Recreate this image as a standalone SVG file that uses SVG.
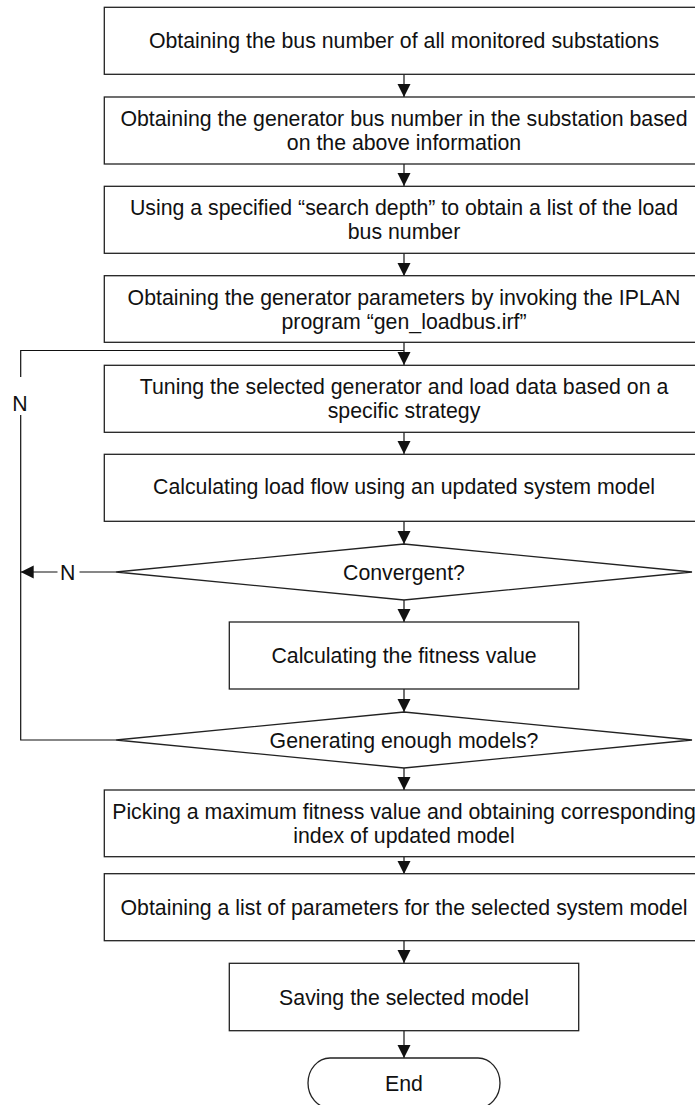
<svg xmlns="http://www.w3.org/2000/svg" width="695" height="1105" viewBox="0 0 695 1105">
  <style>
    .box { fill: #fff; stroke: #222; stroke-width: 1.3; }
    .wire { fill: none; stroke: #111; stroke-width: 1.2; }
    .lbl { font-family: "Liberation Sans", Arial, sans-serif; font-size: 21.3px; fill: #111; text-anchor: middle; }
  </style>
  <defs>
    <marker id="arrow" markerUnits="userSpaceOnUse" markerWidth="14" markerHeight="14" refX="13" refY="6.5" orient="auto">
      <path d="M0,0 L13,6.5 L0,13 z" fill="#111"/>
    </marker>
  </defs>
  <rect width="695" height="1105" fill="#fff"/>

  <!-- connectors -->
  <g id="connectors">
    <line class="wire" x1="404" y1="74" x2="404" y2="97" marker-end="url(#arrow)"/>
    <line class="wire" x1="404" y1="164" x2="404" y2="186" marker-end="url(#arrow)"/>
    <line class="wire" x1="404" y1="253" x2="404" y2="276" marker-end="url(#arrow)"/>
    <line class="wire" x1="404" y1="342" x2="404" y2="365" marker-end="url(#arrow)"/>
    <line class="wire" x1="404" y1="432" x2="404" y2="454" marker-end="url(#arrow)"/>
    <line class="wire" x1="404" y1="521" x2="404" y2="544" marker-end="url(#arrow)"/>
    <line class="wire" x1="404" y1="600" x2="404" y2="622" marker-end="url(#arrow)"/>
    <line class="wire" x1="404" y1="689" x2="404" y2="712" marker-end="url(#arrow)"/>
    <line class="wire" x1="404" y1="768" x2="404" y2="790" marker-end="url(#arrow)"/>
    <line class="wire" x1="404" y1="857" x2="404" y2="874" marker-end="url(#arrow)"/>
    <line class="wire" x1="404" y1="941" x2="404" y2="963" marker-end="url(#arrow)"/>
    <line class="wire" x1="404" y1="1031" x2="404" y2="1058" marker-end="url(#arrow)"/>
    <!-- "not convergent" exit -->
    <line class="wire" x1="116" y1="572" x2="20.7" y2="572" marker-end="url(#arrow)"/>
    <rect x="57.5" y="562" width="22" height="20" fill="#fff"/>
    <text class="lbl" x="67.7" y="579.5">N</text>
    <!-- loop back to tuning step -->
    <polyline class="wire" points="116,740 20.7,740 20.7,350.5 404,350.5"/>
    <rect x="10" y="377" width="21" height="38" fill="#fff"/>
    <text class="lbl" x="20" y="411">N</text>
  </g>

  <g id="n1">
    <rect class="box" x="104.3" y="7.3" width="600" height="67"/>
    <text class="lbl" x="404" y="48">Obtaining the bus number of all monitored substations</text>
  </g>
  <g id="n2">
    <rect class="box" x="104.3" y="97" width="600" height="67"/>
    <text class="lbl" x="404" y="126">Obtaining the generator bus number in the substation based</text>
    <text class="lbl" x="404" y="150">on the above information</text>
  </g>
  <g id="n3">
    <rect class="box" x="104.3" y="186.3" width="600" height="67"/>
    <text class="lbl" x="404" y="215">Using a specified “search depth” to obtain a list of the load</text>
    <text class="lbl" x="404" y="239">bus number</text>
  </g>
  <g id="n4">
    <rect class="box" x="104.3" y="275.7" width="600" height="66.6"/>
    <text class="lbl" x="404" y="305">Obtaining the generator parameters by invoking the IPLAN</text>
    <text class="lbl" x="404" y="329">program “gen_loadbus.irf”</text>
  </g>
  <g id="n5">
    <rect class="box" x="104.3" y="365.3" width="600" height="67"/>
    <text class="lbl" x="404" y="394">Tuning the selected generator and load data based on a</text>
    <text class="lbl" x="404" y="418">specific strategy</text>
  </g>
  <g id="n6">
    <rect class="box" x="104.3" y="454.3" width="600" height="67"/>
    <text class="lbl" x="404" y="494">Calculating load flow using an updated system model</text>
  </g>
  <g id="d1">
    <polygon class="box" points="404,544 692,572 404,600 116,572"/>
    <text class="lbl" x="404" y="579.5">Convergent?</text>
  </g>
  <g id="n7">
    <rect class="box" x="229.3" y="622" width="349.4" height="67"/>
    <text class="lbl" x="404" y="663">Calculating the fitness value</text>
  </g>
  <g id="d2">
    <polygon class="box" points="404,712 692,740 404,768 116,740"/>
    <text class="lbl" x="404" y="747.5">Generating enough models?</text>
  </g>
  <g id="n8">
    <rect class="box" x="104.3" y="790" width="600" height="66.7"/>
    <text class="lbl" x="404" y="818.5">Picking a maximum fitness value and obtaining corresponding</text>
    <text class="lbl" x="404" y="842.5">index of updated model</text>
  </g>
  <g id="n9">
    <rect class="box" x="104.3" y="873.7" width="600" height="67"/>
    <text class="lbl" x="404" y="914.5">Obtaining a list of parameters for the selected system model</text>
  </g>
  <g id="n10">
    <rect class="box" x="229.3" y="963.3" width="349.4" height="67.4"/>
    <text class="lbl" x="404" y="1004.5">Saving the selected model</text>
  </g>
  <g id="end">
    <rect class="box" x="308" y="1058" width="192" height="50" rx="22" ry="25"/>
    <text class="lbl" x="404" y="1090.5">End</text>
  </g>
</svg>
